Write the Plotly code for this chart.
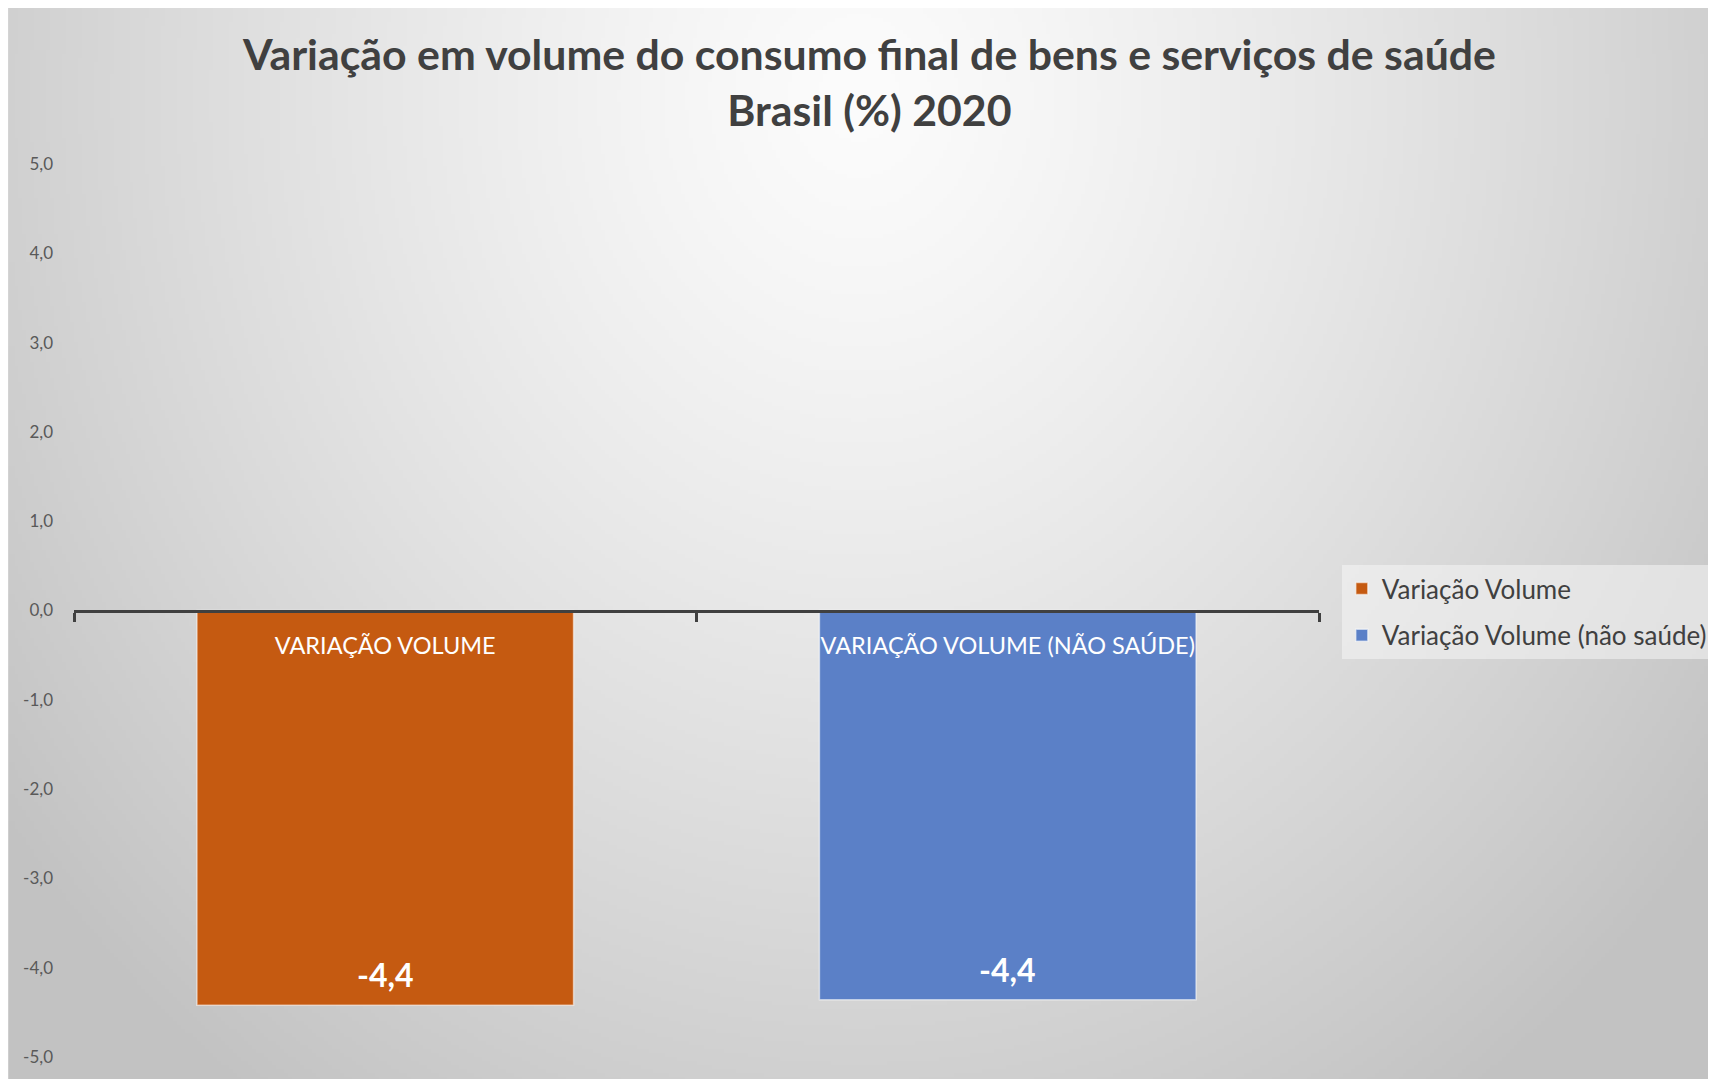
import base64
import struct
import zlib

import numpy as np
import plotly.graph_objects as go

# dados
categorias = ["VARIAÇÃO VOLUME", "VARIAÇÃO VOLUME (NÃO SAÚDE)"]
series     = ["Variação Volume", "Variação Volume (não saúde)"]
valores    = [-4.42, -4.36]
cores      = ["#C55A11", "#5B80C7"]
y_ticks    = [5, 4, 3, 2, 1, 0, -1, -2, -3, -4, -5]

W, H = 1716, 1079
ML, MR, MT, MB = 66, 394, 156, 30
PW, PH = W - ML - MR, H - MT - MB


def fmt(v):
    # vírgula decimal e hífen simples, como no Excel
    return f"{v:.1f}".replace(".", ",")


def fundo_gradiente(w=429, h=270):
    """PNG em tons de cinza (gradiente radial claro no topo/centro)."""
    xx, yy = np.meshgrid(np.linspace(0, 1, w), np.linspace(0, 1, h))
    d = np.sqrt(((xx - 0.50) / 0.58) ** 2 + ((yy - 0.08) / 1.05) ** 2)
    g = np.clip(252 - 52 * d ** 1.25, 194, 252).astype(np.uint8)
    raw = b"".join(b"\x00" + g[i].tobytes() for i in range(h))

    def chunk(tag, data):
        return (struct.pack(">I", len(data)) + tag + data
                + struct.pack(">I", zlib.crc32(tag + data) & 0xFFFFFFFF))

    png = (b"\x89PNG\r\n\x1a\n"
           + chunk(b"IHDR", struct.pack(">IIBBBBB", w, h, 8, 0, 0, 0, 0))
           + chunk(b"IDAT", zlib.compress(raw, 9))
           + chunk(b"IEND", b""))
    return "data:image/png;base64," + base64.b64encode(png).decode()


fig = go.Figure()

for cat, nome, v, c in zip(categorias, series, valores, cores):
    fig.add_trace(go.Bar(
        x=[cat], y=[v], name=nome, legendgroup=nome,
        marker=dict(color=c, line=dict(color="rgba(255,255,255,0.55)", width=1.5)),
        hoverinfo="skip",
    ))
    fig.add_annotation(
        x=cat, y=v, text=f"<b>{fmt(v)}</b>",
        showarrow=False, yanchor="bottom", yshift=9,
        font=dict(family="Lato", size=32, color="white"),
    )

# fundo cinza em gradiente cobrindo todo o papel
fig.add_layout_image(
    source=fundo_gradiente(), xref="paper", yref="paper",
    x=-ML / PW, y=(H - MB) / PH, sizex=W / PW, sizey=H / PH,
    xanchor="left", yanchor="top", sizing="stretch", layer="below",
)

fig.update_layout(
    width=W, height=H,
    margin=dict(l=ML, r=MR, t=MT, b=MB),
    paper_bgcolor="#d8d8d8",
    plot_bgcolor="rgba(0,0,0,0)",
    barmode="overlay",
    bargap=0.395,
    font=dict(family="Lato", color="#404040"),
    title=dict(
        text="<b>Variação em volume do consumo final de bens e serviços de saúde<br>Brasil (%) 2020</b>",
        x=0.502, xanchor="center", y=1 - 62 / H, yanchor="middle", xref="container",
        font=dict(family="Lato", size=42.8, color="#404040"),
    ),
    legend=dict(
        x=(1345 - ML) / PW, y=(H - MB - 557) / PH,
        xanchor="left", yanchor="top",
        bgcolor="rgba(245,245,245,0.55)",
        font=dict(family="Lato", size=26, color="#404040"),
        traceorder="grouped", tracegroupgap=10,
        itemwidth=30,
    ),
    showlegend=True,
)

fig.update_xaxes(
    anchor="free", position=0.5,
    showline=True, linecolor="#404040", linewidth=3,
    ticks="outside", tickson="boundaries", ticklen=9, tickwidth=3, tickcolor="#404040",
    tickfont=dict(family="Lato", size=23.5, color="white"),
    ticklabelstandoff=13,
    showgrid=False, zeroline=False, layer="above traces",
    range=[-0.5, 1.5],
)
fig.update_yaxes(
    range=[-5, 5], tickvals=y_ticks, ticktext=[fmt(t) for t in y_ticks],
    showgrid=False, zeroline=False, showline=False,
    tickfont=dict(family="Lato", size=17, color="#595959"),
    ticklabelstandoff=20,
)

fig.write_html("out.html")
